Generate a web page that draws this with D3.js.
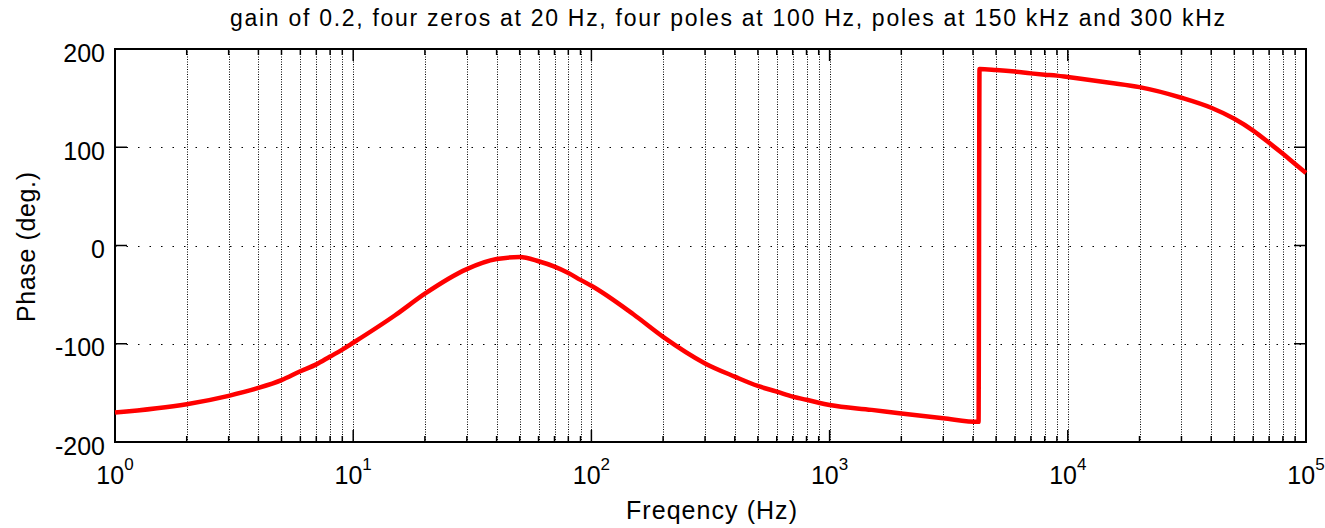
<!DOCTYPE html>
<html>
<head>
<meta charset="utf-8">
<script src="https://cdn.jsdelivr.net/npm/d3@7"></script>
<style>
  body { margin: 0; background: #fff; }
  text { font-family: "Liberation Sans", Arial, sans-serif; fill: #000; }
</style>
</head>
<body>
<svg id="chart" width="1325" height="528"></svg>
<script>
"use strict";
// values
var freqs = [1, 2, 3, 4, 5, 6, 7, 8, 9, 10, 15, 20, 30, 40, 50, 60, 70, 80, 90, 100,
             150, 200, 300, 400, 500, 600, 700, 800, 900, 1000, 1500, 2000, 3000, 4220,
             4260, 5000, 6000, 7000, 8000, 9000, 10000, 15000, 20000, 30000, 40000,
             50000, 60000, 70000, 80000, 90000, 100000];
var phases = [-170, -161.6, -153, -145, -137, -128, -121, -113, -106, -99, -71, -49, -24, -13.8, -11.8, -16, -21.5, -28, -35, -41,
              -70, -93, -120, -133.5, -143, -148.7, -153.8, -157, -160, -162.3, -167.3, -171, -175.8, -179.5,
              179.6, 178.6, 177, 175.2, 173.9, 172.9, 171.4, 165.6, 161.2, 150.4, 140.2,
              129, 117, 104.5, 93.3, 83, 73.9];
var yTicks = [-200, -100, 0, 100, 200];
var xDecades = [0, 1, 2, 3, 4, 5];
var titleText = "gain of 0.2, four zeros at 20 Hz, four poles at 100 Hz, poles at 150 kHz and 300 kHz";
var xLabel = "Freqency (Hz)";
var yLabel = "Phase (deg.)";

var plotL = 115, plotR = 1306, plotT = 49, plotB = 442;
var svg = d3.select("#chart");

var x = d3.scaleLog().domain([1, 1e5]).range([plotL, plotR]);
var y = d3.scaleLinear().domain([-200, 200]).range([plotB, plotT]);

// every 1..9 x 10^k position for the log grid
var gridX = [];
xDecades.slice(0, -1).forEach(function (k) {
    for (var m = 1; m < 10; m++) gridX.push(m * Math.pow(10, k));
});
gridX.push(1e5);

svg.append("g").selectAll("line")
    .data(gridX.filter(function (d) { return d > 1 && d < 1e5; }))
    .enter().append("line")
    .attr("x1", function (d) { return Math.round(x(d)) + 0.5; })
    .attr("x2", function (d) { return Math.round(x(d)) + 0.5; })
    .attr("y1", plotT).attr("y2", plotB)
    .style("stroke", "#000")
    .style("stroke-width", 1)
    .style("stroke-dasharray", "1,1.5");

svg.append("g").selectAll("line")
    .data(yTicks.filter(function (d) { return d > -200 && d < 200; }))
    .enter().append("line")
    .attr("x1", plotL).attr("x2", plotR)
    .attr("y1", function (d) { return Math.round(y(d)) + 0.5; })
    .attr("y2", function (d) { return Math.round(y(d)) + 0.5; })
    .style("stroke", "#000")
    .style("stroke-width", 1)
    .style("stroke-dasharray", "1.5,10");

// tick marks, inside on all four sides
var ticks = svg.append("g").style("stroke", "#000").style("stroke-width", 1.5);
yTicks.forEach(function (d) {
    ticks.append("line").attr("x1", plotL).attr("x2", plotL + 12).attr("y1", y(d)).attr("y2", y(d));
    ticks.append("line").attr("x1", plotR - 12).attr("x2", plotR).attr("y1", y(d)).attr("y2", y(d));
});
gridX.forEach(function (d) {
    var len = Number.isInteger(Math.log10(d)) ? 12 : 6;
    ticks.append("line").attr("x1", x(d)).attr("x2", x(d)).attr("y1", plotB).attr("y2", plotB - len);
    ticks.append("line").attr("x1", x(d)).attr("x2", x(d)).attr("y1", plotT).attr("y2", plotT + len);
});

// frame
svg.append("rect")
    .attr("x", plotL).attr("y", plotT)
    .attr("width", plotR - plotL).attr("height", plotB - plotT)
    .style("fill", "none")
    .style("stroke", "#000")
    .style("stroke-width", 2);

// phase curve
var line = d3.line()
    .x(function (d, i) { return x(freqs[i]); })
    .y(function (d) { return y(d); })
    .curve(d3.curveMonotoneX);

svg.append("path")
    .datum(phases)
    .attr("d", line)
    .style("fill", "none")
    .style("stroke", "#ff0000")
    .style("stroke-width", 4.5)
    .style("stroke-linejoin", "round");

// y tick labels
svg.append("g").selectAll("text")
    .data(yTicks)
    .enter().append("text")
    .attr("x", plotL - 10)
    .attr("y", function (d) { return y(d); })
    .attr("dy", "0.5em")
    .attr("text-anchor", "end")
    .style("font-size", "25px")
    .text(function (d) { return d; });

// x tick labels 10^k
var xt = svg.append("g").selectAll("text")
    .data(xDecades)
    .enter().append("text")
    .attr("x", function (d) { return x(Math.pow(10, d)); })
    .attr("y", 484)
    .attr("text-anchor", "middle")
    .style("font-size", "25px");
xt.append("tspan").text("10");
xt.append("tspan")
    .attr("dy", -14.5)
    .style("font-size", "17px")
    .text(function (d) { return d; });

svg.append("text")
    .attr("x", 711.5)
    .attr("y", 519)
    .attr("text-anchor", "middle")
    .attr("textLength", 171)
    .attr("lengthAdjust", "spacing")
    .style("font-size", "25px")
    .text(xLabel);

svg.append("text")
    .attr("transform", "translate(35,247) rotate(-90)")
    .attr("text-anchor", "middle")
    .attr("textLength", 150)
    .attr("lengthAdjust", "spacing")
    .style("font-size", "25px")
    .text(yLabel);

svg.append("text")
    .attr("x", 727.5)
    .attr("y", 26)
    .attr("text-anchor", "middle")
    .attr("textLength", 995)
    .attr("lengthAdjust", "spacing")
    .style("font-size", "23px")
    .text(titleText);
</script>
</body>
</html>
